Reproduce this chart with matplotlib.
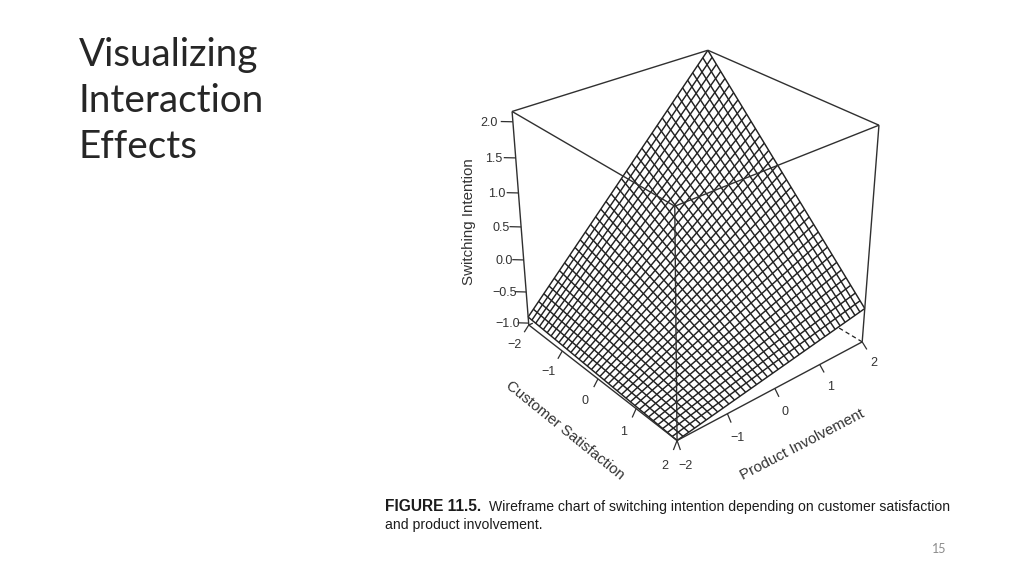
import numpy as np
import matplotlib
matplotlib.use("Agg")
import matplotlib.pyplot as plt
from mpl_toolkits.mplot3d.art3d import Line3DCollection

# ---- chart values ----
title_lines = ["Visualizing", "Interaction", "Effects"]
x_name = "Customer Satisfaction"
y_name = "Product Involvement"
z_name = "Switching Intention"
x_ticks = [-2, -1, 0, 1, 2]
y_ticks = [-2, -1, 0, 1, 2]
z_ticks = [-1.0, -0.5, 0.0, 0.5, 1.0, 1.5, 2.0]
x_range = [-2.0, 2.0]
y_range = [-2.0, 2.0]
z_range = [-1.03, 2.14]
# regression surface: intercept, satisfaction, involvement, interaction
b_const = -0.0725
b_x = -0.346
b_y = 0.446
b_xy = -0.157
grid_cells = 35
caption_bold = "FIGURE 11.5."
caption_rest = "Wireframe chart of switching intention depending on customer satisfaction"
caption_line2 = "and product involvement."
page_number = "15"

# ---- camera: 3D box corners and where they appear on the 1024x576 canvas ----
cam_world = [(-2, -2, z_range[0]), (2, -2, z_range[0]), (2, 2, z_range[0]),
             (-2, -2, z_range[1]), (2, -2, z_range[1]), (2, 2, z_range[1]),
             (-2, 2, z_range[1])]
cam_pixel = [(529, 325), (676.7, 440.7), (862.3, 341.7),
             (512, 111.7), (675, 205.7), (879, 125.7), (707.7, 50)]

W, H = 1024, 576
fig = plt.figure(figsize=(W / 100, H / 100), dpi=100, facecolor="white")
ax = fig.add_axes([400 / W, 0, H / W, 1], projection="3d", computed_zorder=False)
ax.set_axis_off()
ax.patch.set_visible(False)


def fit_camera():
    rows = []
    for (X, Y, Z), (u, v) in zip(cam_world, cam_pixel):
        p = [X, Y, Z, 1.0]
        rows.append(p + [0, 0, 0, 0] + [-u * c for c in p])
        rows.append([0, 0, 0, 0] + p + [-v * c for c in p])
    return np.linalg.svd(np.array(rows))[2][-1].reshape(3, 4)


CAM = fit_camera()
CENTER = np.linalg.svd(CAM)[2][-1]


def get_proj():
    # canvas pixel (u, v from top) -> 2D data coordinates of the 3D axes
    inv = ax.transData.inverted()
    o = inv.transform((0, H))
    a = inv.transform((1, H)) - o
    b = inv.transform((0, H - 1)) - o
    A = np.array([[a[0], b[0], o[0]], [a[1], b[1], o[1]], [0, 0, 1]])
    P = A @ CAM
    return np.vstack([P[0], P[1], CENTER, P[2]])


ax.get_proj = get_proj


def canvas_xy(x, y, z, nudge=(0, 0)):
    u, v, w = CAM @ np.array([x, y, z, 1.0])
    return (u / w + nudge[0]) / W, 1 - (v / w + nudge[1]) / H


# ---- surface ----
gx = np.linspace(x_range[0], x_range[1], grid_cells + 1)
gy = np.linspace(y_range[0], y_range[1], grid_cells + 1)
X, Y = np.meshgrid(gx, gy)
Z = b_const + b_x * X + b_y * Y + b_xy * X * Y

ink = "#222222"
edge = "#303030"
xa, xb = x_range
ya, yb = y_range
za, zb = z_range


def add_lines(segments, **kw):
    ax.add_collection3d(Line3DCollection(segments, **kw), autolim=False)


# hidden edges lie below the opaque surface
add_lines([[(xb, yb, za), (xa, yb, za)], [(xa, ya, za), (xa, yb, za)]],
          colors=ink, linewidths=0.9, linestyles=[(0, (3.5, 2.5))], zorder=1)

ax.plot_surface(X, Y, Z, rstride=1, cstride=1, color="white", shade=False,
                linewidth=0, antialiased=False, zorder=2)
ax.plot_wireframe(X, Y, Z, rstride=1, cstride=1, color=ink, linewidth=1.05, zorder=3)

# ---- box ----
box_edges = [
    [(xa, ya, za), (xb, ya, za)], [(xb, ya, za), (xb, yb, za)],
    [(xa, ya, za), (xa, ya, zb)], [(xb, ya, za), (xb, ya, zb)], [(xb, yb, za), (xb, yb, zb)],
    [(xa, ya, zb), (xb, ya, zb)], [(xb, ya, zb), (xb, yb, zb)],
    [(xb, yb, zb), (xa, yb, zb)], [(xa, yb, zb), (xa, ya, zb)],
]
add_lines(box_edges, colors=edge, linewidths=1.0, zorder=4)

# ---- ticks ----
tick_font = dict(family="Liberation Sans", size=9, color="#333333")
label_font = dict(family="Liberation Sans", size=10.9, color="#333333")


def fmt(v, digits):
    s = f"{abs(v):.{digits}f}"
    return ("\u2212" + s) if v < 0 else s


tick_segments = []
dx, dy = 0.134, -0.18
for t in x_ticks:
    tick_segments.append([(t, ya, za), (t + dx, ya + dy, za)])
    px, py = canvas_xy(t + 2.35 * dx, ya + 2.35 * dy, za, nudge=(-3, 2.5))
    fig.text(px, py, fmt(t, 0), ha="center", va="center", **tick_font)
dx, dy = 0.2, -0.1
for t in y_ticks:
    tick_segments.append([(xb, t, za), (xb + dx, t + dy, za)])
    px, py = canvas_xy(xb + 2.2 * dx, t + 2.2 * dy, za, nudge=(1.5, 4.5))
    fig.text(px, py, fmt(t, 0), ha="center", va="center", **tick_font)
dx, dy = -0.13, -0.14
for t in z_ticks:
    tick_segments.append([(xa, ya, t), (xa + dx, ya + dy, t)])
    k = 0.933 + 0.153 * t
    px, py = canvas_xy(xa + k * dx, ya + k * dy, t, nudge=(0, 1.5))
    fig.text(px, py, fmt(t, 1), ha="right", va="center", **tick_font)
add_lines(tick_segments, colors=edge, linewidths=0.9, zorder=4)

# ---- axis names and slide text ----
fig.text(469 / W, 1 - 221.7 / H, z_name, rotation=90, ha="center", va="center", **label_font)
fig.text(564.5 / W, 1 - 430.5 / H, x_name, rotation=-39, ha="center", va="center",
         rotation_mode="anchor", **label_font)
fig.text(802.3 / W, 1 - 444.5 / H, y_name, rotation=27.5, ha="center", va="center",
         rotation_mode="anchor", **label_font)

for line, base in zip(title_lines, [66, 112, 158]):
    fig.text(79 / W, 1 - base / H, line, family="Lato", size=27.8,
             color="#262626", ha="left", va="baseline")

cap = dict(family="Liberation Sans", color="#1c1c1c", ha="left", va="baseline")
fig.text(385 / W, 1 - 511 / H, caption_bold, fontweight="bold", size=11.2, **cap)
fig.text(489 / W, 1 - 511 / H, caption_rest, size=10.12, **cap)
fig.text(385 / W, 1 - 529 / H, caption_line2, size=10.12, **cap)
fig.text(939.5 / W, 1 - 549 / H, page_number, family="Lato", size=9, color="#8c8c8c",
         ha="center", va="center")

fig.savefig("out.png", dpi=100, facecolor="white")
